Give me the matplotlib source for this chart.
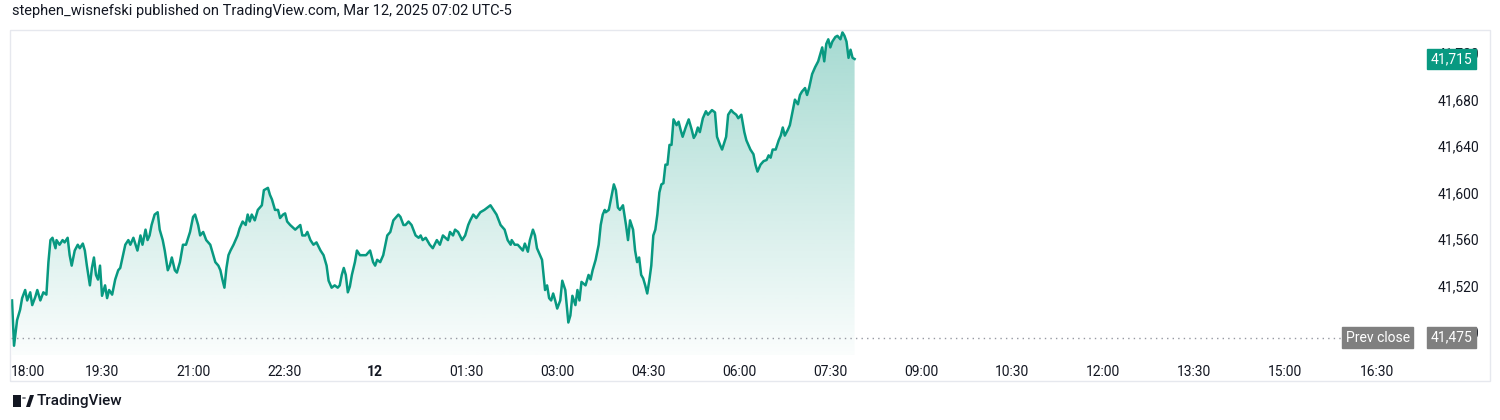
import matplotlib.pyplot as plt
import numpy as np
from matplotlib.patches import Rectangle, Polygon, Circle

# minutes since 18:00 (Mar 11) and index value
MINUTES = [1, 3, 6, 9, 11, 14, 16, 19, 21, 24, 26, 29, 32, 35, 37, 39, 41, 44, 45, 48, 51, 53, 56, 58, 60, 63,
           66, 68, 71, 73, 75, 78, 80, 82, 84, 86, 88, 90, 93, 95, 97, 100, 103, 106, 108, 113, 116, 118, 121,
           125, 128, 130, 133, 135, 137, 139, 142, 145, 147, 150, 152, 155, 157, 159, 162, 164, 167, 170, 173,
           177, 180, 182, 185, 187, 190, 193, 197, 199, 202, 205, 207, 209, 211, 213, 215, 217, 220, 222, 224,
           226, 229, 232, 234, 236, 238, 241, 244, 248, 250, 254, 256, 258, 261, 264, 266, 269, 271, 273, 276,
           281, 286, 288, 291, 293, 296, 299, 302, 306, 309, 312, 314, 317, 320, 323, 325, 327, 329, 331, 333,
           335, 337, 340, 342, 345, 348, 351, 355, 358, 360, 362, 365, 368, 372, 375, 378, 380, 383, 385, 388,
           390, 393, 396, 400, 403, 405, 407, 410, 414, 417, 421, 424, 427, 432, 434, 437, 439, 442, 446, 449,
           452, 454, 457, 460, 464, 468, 471, 474, 477, 480, 484, 488, 491, 494, 495, 498, 501, 504, 506, 508,
           511, 513, 516, 518, 520, 523, 525, 528, 530, 532, 534, 536, 538, 540, 543, 545, 548, 551, 553, 555,
           558, 560, 562, 564, 568, 571, 573, 575, 578, 581, 583, 585, 587, 588, 591, 594, 596, 598, 600, 602,
           605, 608, 610, 612, 615, 617, 619, 621, 623, 625, 627, 629, 631, 633, 635, 637, 639, 641, 643, 645,
           647, 649, 651, 653, 655, 658, 660, 662, 664, 667, 670, 673, 675, 677, 679, 681, 684, 687, 689, 693,
           696, 698, 701, 703, 707, 709, 712, 714, 717, 719, 722, 725, 727, 731, 734, 736, 738, 741, 744, 747,
           749, 751, 753, 756, 759, 761, 763, 765, 768, 770, 773, 775, 778, 780, 782, 785, 787, 789, 792, 795,
           798, 800, 802, 804, 806, 808, 810, 812, 815, 817, 820, 822, 824, 826, 828, 830, 832, 834]
PRICES = [41507, 41468, 41490, 41499, 41509, 41516, 41507, 41514, 41503, 41510, 41516, 41507, 41514, 41512,
          41540, 41559, 41561, 41552, 41559, 41555, 41559, 41557, 41561, 41546, 41537, 41550, 41555, 41552,
          41556, 41550, 41537, 41520, 41535, 41544, 41529, 41525, 41537, 41511, 41520, 41509, 41516, 41512,
          41525, 41533, 41535, 41555, 41559, 41555, 41561, 41550, 41563, 41555, 41568, 41559, 41563, 41572,
          41581, 41583, 41568, 41559, 41550, 41533, 41537, 41544, 41533, 41531, 41540, 41555, 41555, 41566,
          41579, 41581, 41572, 41563, 41566, 41559, 41555, 41549, 41540, 41537, 41533, 41525, 41518, 41535,
          41546, 41550, 41555, 41559, 41563, 41569, 41575, 41572, 41581, 41575, 41581, 41576, 41585, 41589,
          41602, 41604, 41598, 41594, 41585, 41585, 41578, 41581, 41582, 41575, 41572, 41568, 41572, 41563,
          41563, 41566, 41559, 41555, 41557, 41550, 41546, 41537, 41524, 41518, 41520, 41518, 41520, 41529,
          41535, 41529, 41514, 41519, 41529, 41540, 41550, 41546, 41546, 41546, 41550, 41540, 41537, 41542,
          41540, 41546, 41563, 41566, 41576, 41578, 41581, 41579, 41572, 41572, 41575, 41572, 41563, 41561,
          41563, 41559, 41561, 41555, 41552, 41559, 41555, 41563, 41559, 41566, 41563, 41568, 41566, 41559,
          41563, 41572, 41576, 41581, 41578, 41583, 41585, 41587, 41589, 41585, 41581, 41572, 41568, 41559,
          41555, 41559, 41555, 41555, 41552, 41550, 41556, 41549, 41559, 41568, 41563, 41552, 41546, 41542,
          41516, 41520, 41509, 41507, 41513, 41507, 41500, 41507, 41524, 41516, 41488, 41494, 41511, 41503,
          41516, 41507, 41523, 41520, 41529, 41525, 41533, 41542, 41555, 41572, 41581, 41585, 41583, 41585,
          41598, 41607, 41602, 41587, 41585, 41589, 41572, 41559, 41576, 41568, 41550, 41540, 41544, 41529,
          41526, 41520, 41513, 41524, 41537, 41563, 41568, 41581, 41600, 41607, 41608, 41624, 41624, 41641,
          41641, 41663, 41658, 41661, 41654, 41648, 41656, 41663, 41654, 41647, 41650, 41656, 41652, 41664,
          41670, 41667, 41671, 41669, 41648, 41641, 41637, 41648, 41667, 41671, 41669, 41667, 41664, 41667,
          41652, 41645, 41637, 41633, 41624, 41618, 41624, 41627, 41628, 41632, 41630, 41637, 41637, 41645,
          41649, 41656, 41649, 41654, 41658, 41671, 41680, 41676, 41684, 41687, 41690, 41684, 41690, 41702,
          41708, 41713, 41719, 41725, 41713, 41728, 41732, 41725, 41730, 41734, 41735, 41732, 41738, 41735,
          41730, 41716, 41723, 41716, 41715]

PREV_CLOSE = 41475
LAST = 41715
TIME_TICKS = list(range(0, 1351, 90))
TIME_LABELS = ["18:00", "19:30", "21:00", "22:30", "12", "01:30", "03:00", "04:30", "06:00", "07:30",
               "09:00", "10:30", "12:00", "13:30", "15:00", "16:30"]
PRICE_TICKS = [41480, 41520, 41560, 41600, 41640, 41680, 41720]

GREEN = "#089981"
GREY = "#7f7f7f"
TEXT = "#131722"
plt.rcParams["font.family"] = ["Roboto", "DejaVu Sans"]

fig = plt.figure(figsize=(15, 4.2), dpi=100)
fig.patch.set_facecolor("white")

# outer light frame
fig.add_artist(Rectangle((10 / 1500, 1 - 381 / 420), 1480 / 1500, 351 / 420, transform=fig.transFigure,
                         fill=False, edgecolor="#e6e8ee", lw=1))

ax = fig.add_axes((11 / 1500, 1 - 355 / 420, 1407 / 1500, 325 / 420))
x = np.array(MINUTES)
y = np.array(PRICES)

# gradient fill under line
alpha = np.linspace(0.02, 0.36, 256).reshape(-1, 1)
rgba = np.zeros((256, 1, 4))
rgba[..., 0] = 0x08 / 255
rgba[..., 1] = 0x99 / 255
rgba[..., 2] = 0x81 / 255
rgba[..., 3] = alpha
img = ax.imshow(rgba, extent=(x[0], x[-1], 41460, y.max()), origin="lower", aspect="auto", zorder=1)
poly = Polygon(np.column_stack([np.r_[x[0], x, x[-1]], np.r_[41460, y, 41460]]), closed=True,
               transform=ax.transData, facecolor="none", edgecolor="none")
ax.add_patch(poly)
img.set_clip_path(poly)
ax.set_xlim(0, 1391)
ax.set_ylim(41460, 41740)

ax.plot(x, y, color=GREEN, lw=1.8, zorder=3, solid_joinstyle="round")
ax.axhline(PREV_CLOSE, xmax=1330 / 1407, color="#9598a1", lw=1, ls=(0, (1, 3)), zorder=2)

for s in ax.spines.values():
    s.set_visible(False)
ax.set_xticks(TIME_TICKS)
ax.set_xticklabels(TIME_LABELS)
for lbl in ax.get_xticklabels():
    if lbl.get_text() == "12":
        lbl.set_fontweight("bold")
    if lbl.get_text() == "18:00":
        lbl.set_horizontalalignment("left")
ax.tick_params(axis="x", length=0, pad=7, labelsize=10, labelcolor=TEXT)
ax.set_yticks(PRICE_TICKS)
ax.set_yticklabels([f"{v:,}" for v in PRICE_TICKS])
ax.yaxis.tick_right()
ax.tick_params(axis="y", length=0, pad=14, labelsize=10, labelcolor=TEXT)

# price badges
badge = dict(textcoords="offset points", ha="center", va="center", color="white", fontsize=10,
             xycoords=("axes fraction", "data"), zorder=5)
ax.annotate(f"{LAST:,}", xy=(1.0, LAST), xytext=(24, 0),
            bbox=dict(boxstyle="square,pad=0.25", fc=GREEN, ec=GREEN), **badge)
ax.annotate(f"{PREV_CLOSE:,}", xy=(1.0, PREV_CLOSE), xytext=(24, 0),
            bbox=dict(boxstyle="square,pad=0.25", fc=GREY, ec=GREY), **badge)
ax.annotate("Prev close", xy=(1.0, PREV_CLOSE), xytext=(-29, 0),
            bbox=dict(boxstyle="square,pad=0.25", fc=GREY, ec=GREY), **badge)

fig.text(12 / 1500, 1 - 11 / 420, "stephen_wisnefski published on TradingView.com, Mar 12, 2025 07:02 UTC-5",
         fontsize=10.5, color=TEXT, va="center", ha="left")

# TradingView logo
fig.add_artist(Rectangle((13 / 1500, 1 - 407 / 420), 8 / 1500, 12 / 420, transform=fig.transFigure,
                         fc=TEXT, ec="none"))
fig.add_artist(Circle((24 / 1500, 1 - 398 / 420), 2 / 1500, transform=fig.transFigure, fc=TEXT, ec="none"))
fig.add_artist(Polygon([(26 / 1500, 1 - 407 / 420), (30 / 1500, 1 - 395 / 420), (34 / 1500, 1 - 395 / 420),
                        (30 / 1500, 1 - 407 / 420)], closed=True, transform=fig.transFigure, fc=TEXT, ec="none"))
fig.text(37 / 1500, 1 - 401 / 420, "TradingView", fontsize=11, color=TEXT, va="center", ha="left",
         fontweight="medium")

fig.savefig("out.png", dpi=100, facecolor="white")
